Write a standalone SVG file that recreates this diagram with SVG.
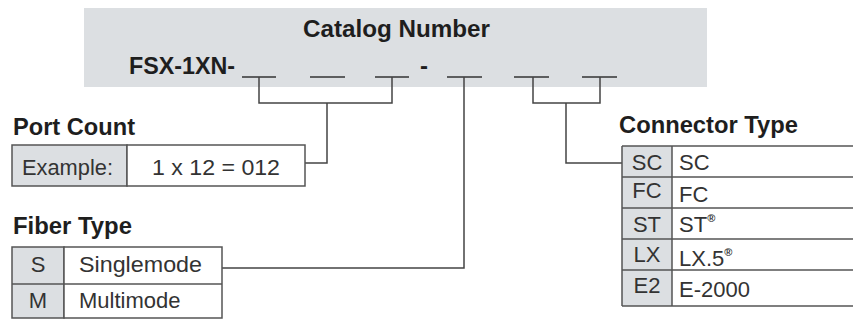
<svg xmlns="http://www.w3.org/2000/svg" width="853" height="320" viewBox="0 0 853 320">
<style>
.bold{font-family:"Liberation Sans",Arial,sans-serif;font-weight:bold;fill:#1e1e1e}
.txt{font-family:"Liberation Sans",Arial,sans-serif;font-size:22px;fill:#333}
.sup{font-size:11px;font-weight:bold}
.cell{stroke:#555;stroke-width:1.5}
.gray{fill:#dcdfe2}
.white{fill:#fff}
.wire{fill:none;stroke:#444;stroke-width:1.5}
.blank{stroke:#333;stroke-width:1.6}
</style>
<rect width="853" height="320" fill="#fff"/>
<g id="catalog">
<rect x="84" y="8" width="623" height="79" class="gray"/>
<text class="bold" x="303" y="37" font-size="24" textLength="187" lengthAdjust="spacingAndGlyphs">Catalog Number</text>
<text class="bold" x="129" y="74" font-size="24" textLength="106" lengthAdjust="spacingAndGlyphs">FSX-1XN-</text>
<text class="bold" x="424" y="74" font-size="24" text-anchor="middle">-</text>
<line class="blank" x1="242" y1="77" x2="276" y2="77"/>
<line class="blank" x1="310" y1="77" x2="345" y2="77"/>
<line class="blank" x1="375" y1="77" x2="409" y2="77"/>
<line class="blank" x1="447" y1="77" x2="482" y2="77"/>
<line class="blank" x1="514" y1="77" x2="549" y2="77"/>
<line class="blank" x1="582" y1="77" x2="617" y2="77"/>
</g>
<g id="connectors">
<path class="wire" d="M259,77 V103 H392 V77 M327,103 V163 H305"/>
<path class="wire" d="M464,77 V268 H222"/>
<path class="wire" d="M533,77 V103 H600 V77 M566,103 V163 H622"/>
</g>
<g id="port-count">
<text class="bold" x="13" y="135" font-size="23" textLength="122" lengthAdjust="spacingAndGlyphs">Port Count</text>
<rect x="12" y="145" width="115" height="41" class="gray cell"/>
<rect x="127" y="145" width="178" height="41" class="white cell"/>
<text class="txt" x="22" y="175" font-size="23" textLength="91" lengthAdjust="spacingAndGlyphs">Example:</text>
<text class="txt" x="152" y="175" font-size="23" textLength="128" lengthAdjust="spacingAndGlyphs">1 x 12 = 012</text>
</g>
<g id="fiber-type">
<text class="bold" x="13" y="234" font-size="23" textLength="119" lengthAdjust="spacingAndGlyphs">Fiber Type</text>
<rect x="12" y="247" width="52" height="71" class="gray cell"/>
<rect x="64" y="247" width="158" height="71" class="white cell"/>
<line class="cell" x1="12" y1="284" x2="222" y2="284"/>
<text class="txt" x="38" y="272" text-anchor="middle">S</text>
<text class="txt" x="79" y="272" textLength="123" lengthAdjust="spacingAndGlyphs">Singlemode</text>
<text class="txt" x="38" y="308" text-anchor="middle">M</text>
<text class="txt" x="79" y="308">Multimode</text>
</g>
<g id="connector-type">
<text class="bold" x="619" y="133" font-size="23" textLength="179" lengthAdjust="spacingAndGlyphs">Connector Type</text>
<rect x="622" y="146" width="50" height="160" class="gray"/>
<g class="cell">
<line x1="622" y1="146" x2="853" y2="146"/>
<line x1="622" y1="177" x2="853" y2="177"/>
<line x1="622" y1="208" x2="853" y2="208"/>
<line x1="622" y1="239" x2="853" y2="239"/>
<line x1="622" y1="270" x2="853" y2="270"/>
<line x1="622" y1="306" x2="853" y2="306"/>
<line x1="622" y1="146" x2="622" y2="306"/>
<line x1="672" y1="146" x2="672" y2="306"/>
</g>
<text class="txt" x="647" y="170" text-anchor="middle">SC</text>
<text class="txt" x="679" y="170">SC</text>
<text class="txt" x="647" y="198" text-anchor="middle">FC</text>
<text class="txt" x="679" y="202">FC</text>
<text class="txt" x="647" y="232" text-anchor="middle">ST</text>
<text class="txt" x="679" y="232">ST<tspan class="sup" dy="-10">®</tspan></text>
<text class="txt" x="647" y="262" text-anchor="middle">LX</text>
<text class="txt" x="679" y="266">LX.5<tspan class="sup" dy="-10">®</tspan></text>
<text class="txt" x="647" y="293" text-anchor="middle">E2</text>
<text class="txt" x="679" y="297">E-2000</text>
</g>
</svg>
